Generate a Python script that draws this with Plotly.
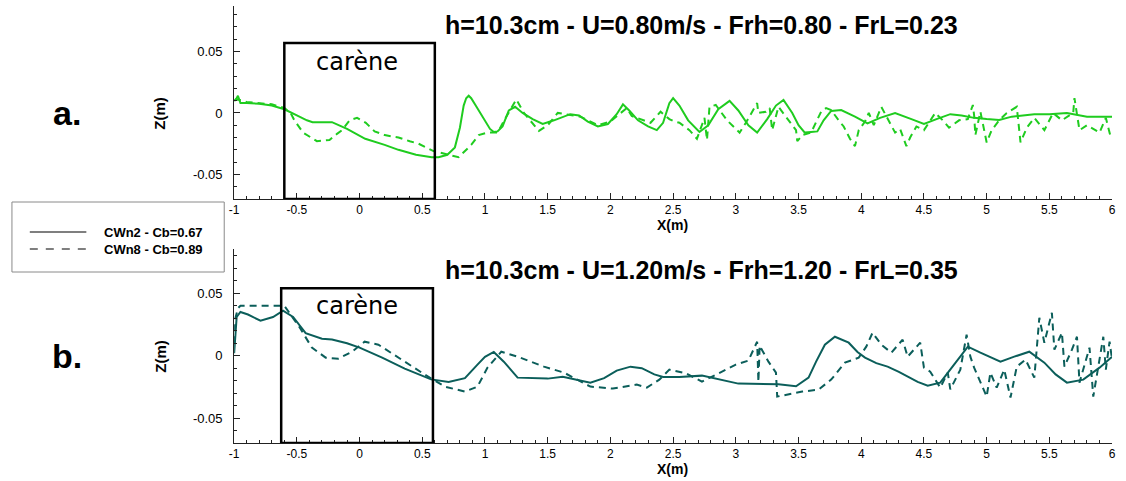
import plotly.graph_objects as go

# ---------------- data ----------------
# panel a : U = 0.80 m/s
xa_cwn2 = [-1.0, -0.98, -0.97, -0.95, -0.9, -0.8, -0.7, -0.6, -0.5, -0.42,
           -0.375, -0.22, -0.1, 0.045, 0.2, 0.31, 0.45, 0.575, 0.63, 0.7,
           0.76, 0.8, 0.83, 0.85, 0.87, 0.89, 0.92, 0.96, 1.0, 1.04,
           1.07, 1.1, 1.14, 1.19, 1.24, 1.3, 1.38, 1.46, 1.55, 1.62,
           1.68, 1.75, 1.82, 1.9, 1.98, 2.05, 2.1, 2.15, 2.22, 2.3,
           2.37, 2.42, 2.47, 2.5, 2.55, 2.62, 2.71, 2.78, 2.86, 2.95,
           3.02, 3.1, 3.17, 3.25, 3.32, 3.38, 3.45, 3.5, 3.55, 3.65,
           3.7, 3.76, 3.84, 3.95, 4.05, 4.15, 4.27, 4.4, 4.5, 4.6,
           4.71, 4.8, 4.9, 5.0, 5.1, 5.2, 5.38, 5.5, 5.64, 5.8,
           6.0]
za_cwn2 = [0.010, 0.012, 0.014, 0.008, 0.008, 0.0075, 0.006, 0.003, -0.002, -0.006,
           -0.0075, -0.0075, -0.013, -0.021, -0.026, -0.030, -0.034, -0.036, -0.036, -0.034,
           -0.028, -0.012, 0.006, 0.012, 0.014, 0.012, 0.007, 0.0, -0.007, -0.013,
           -0.0155, -0.015, -0.011, 0.002, 0.005, 0.0, -0.005, -0.009, -0.006, -0.003,
           -0.001, -0.002, -0.007, -0.011, -0.009, -0.001, 0.007, 0.002, -0.006, -0.011,
           -0.014, -0.008, 0.008, 0.012, 0.006, -0.006, -0.0155, -0.01, 0.003, 0.0098,
           0.002, -0.01, -0.016, -0.005, 0.006, 0.0106, 0.0, -0.01, -0.016, -0.015,
           -0.006, 0.0016, 0.0024, -0.003, -0.0085, -0.004, 0.0, -0.005, -0.009, -0.005,
           -0.001, -0.002, -0.004, -0.005, -0.0057, -0.003, -0.001, -0.001, 0.0, -0.003,
           -0.003]

xa_cwn8 = [-1.0, -0.97, -0.9, -0.8, -0.7, -0.6, -0.55, -0.52, -0.45, -0.34,
           -0.24, -0.18, -0.14, -0.08, -0.02, 0.05, 0.12, 0.2, 0.31, 0.4,
           0.47, 0.59, 0.7, 0.79, 0.89, 0.95, 1.02, 1.1, 1.17, 1.25,
           1.31, 1.43, 1.5, 1.58, 1.76, 1.9, 2.0, 2.13, 2.17, 2.32,
           2.4, 2.47, 2.51, 2.55, 2.63, 2.69, 2.75, 2.77, 2.79, 2.84,
           2.93, 3.03, 3.08, 3.17, 3.18, 3.24, 3.27, 3.29, 3.34, 3.4,
           3.48, 3.49, 3.53, 3.6, 3.64, 3.68, 3.72, 3.76, 3.82, 3.86,
           3.91, 3.95, 3.98, 4.03, 4.06, 4.1, 4.16, 4.22, 4.27, 4.31,
           4.36, 4.39, 4.44, 4.5, 4.59, 4.65, 4.7, 4.78, 4.85, 4.89,
           4.9, 4.91, 4.95, 5.0, 5.04, 5.1, 5.16, 5.24, 5.27, 5.32,
           5.38, 5.46, 5.53, 5.6, 5.69, 5.7, 5.74, 5.8, 5.9, 5.95,
           5.99]
za_cwn8 = [0.010, 0.011, 0.009, 0.008, 0.007, 0.004, 0.0, -0.006, -0.016, -0.023,
           -0.022, -0.017, -0.014, -0.006, -0.004, -0.008, -0.015, -0.018, -0.020, -0.023,
           -0.025, -0.031, -0.034, -0.036, -0.026, -0.018, -0.016, -0.016, -0.003, 0.011,
           0.0, -0.0146, -0.01, 0.0, -0.003, -0.01, -0.007, 0.004, -0.0025, -0.008,
           0.001, -0.005, -0.007, -0.008, -0.014, -0.021, -0.004, -0.022, 0.005, 0.0065,
           -0.006, -0.016, -0.008, 0.008, 0.0, 0.001, 0.004, -0.014, 0.005, -0.003,
           -0.014, -0.023, -0.018, -0.016, -0.008, 0.001, 0.004, 0.0024, -0.006, -0.011,
           -0.021, -0.027, -0.014, -0.007, 0.0, -0.01, 0.005, -0.006, -0.016, -0.013,
           -0.027, -0.02, -0.011, -0.014, 0.0, -0.006, -0.012, -0.006, -0.005, 0.0065,
           -0.002, -0.018, 0.001, -0.024, -0.014, -0.006, 0.0, 0.005, -0.024, -0.012,
           -0.004, -0.014, 0.0, -0.006, 0.0, 0.012, -0.014, -0.01, -0.016, -0.004,
           -0.02]

# panel b : U = 1.20 m/s
xb_cwn2 = [-1.0, -0.99, -0.98, -0.95, -0.89, -0.79, -0.69, -0.61, -0.53, -0.43,
           -0.3, -0.22, -0.1, 0.0, 0.18, 0.36, 0.57, 0.71, 0.84, 0.94,
           1.0, 1.07, 1.15, 1.26, 1.5, 1.62, 1.84, 1.95, 2.05, 2.16,
           2.25, 2.35, 2.42, 2.55, 2.73, 3.02, 3.34, 3.48, 3.58, 3.64,
           3.71, 3.79, 3.9, 3.97, 4.03, 4.12, 4.21, 4.3, 4.37, 4.45,
           4.53, 4.63, 4.74, 4.85, 4.95, 5.11, 5.22, 5.34, 5.46, 5.55,
           5.64, 5.77, 5.9, 6.0]
zb_cwn2 = [0.002, 0.02, 0.031, 0.035, 0.033, 0.028, 0.031, 0.036, 0.031, 0.018,
           0.0136, 0.013, 0.010, 0.0064, -0.0016, -0.0104, -0.019, -0.021, -0.018, -0.0072,
           -0.001, 0.003, -0.0048, -0.0176, -0.0184, -0.017, -0.0216, -0.018, -0.012, -0.0088,
           -0.010, -0.015, -0.017, -0.017, -0.016, -0.0224, -0.023, -0.0245, -0.0176, -0.0048,
           0.0088, 0.0152, 0.0104, 0.003, -0.0016, -0.006, -0.0088, -0.013, -0.0168, -0.021,
           -0.024, -0.0216, -0.0072, 0.0072, 0.0024, -0.0048, -0.0008, 0.0032, -0.0056, -0.015,
           -0.0216, -0.0192, -0.0096, -0.0008]

xb_cwn8 = [-1.0, -0.99, -0.97, -0.95, -0.8, -0.6, -0.55, -0.48, -0.38, -0.27,
           -0.17, -0.06, 0.04, 0.15, 0.36, 0.52, 0.68, 0.84, 0.94, 1.02,
           1.13, 1.26, 1.47, 1.63, 1.84, 2.02, 2.21, 2.29, 2.39, 2.47,
           2.6, 2.73, 2.89, 3.0, 3.1, 3.17, 3.18, 3.19, 3.26, 3.32,
           3.33, 3.42, 3.53, 3.66, 3.76, 3.87, 3.98, 4.04, 4.09, 4.16,
           4.24, 4.33, 4.37, 4.47, 4.5, 4.55, 4.63, 4.69, 4.71, 4.79,
           4.84, 4.87, 4.9, 5.0, 5.03, 5.08, 5.14, 5.19, 5.24, 5.31,
           5.38, 5.42, 5.46, 5.52, 5.54, 5.6, 5.62, 5.68, 5.72, 5.74,
           5.82, 5.85, 5.93, 5.95, 5.98, 6.0]
zb_cwn8 = [0.01, 0.03, 0.038, 0.040, 0.040, 0.040, 0.033, 0.023, 0.0064, -0.0016,
           -0.0024, 0.0032, 0.0112, 0.0088, -0.0048, -0.0152, -0.0248, -0.0288, -0.0248, -0.0096,
           0.0032, -0.0008, -0.0088, -0.0136, -0.0248, -0.0264, -0.0232, -0.0256, -0.0192, -0.0112,
           -0.014, -0.0208, -0.0128, -0.0072, -0.004, 0.0112, -0.021, 0.008, -0.0048, -0.0136,
           -0.0328, -0.031, -0.0288, -0.0272, -0.0192, -0.0056, -0.0016, 0.0072, 0.0184, 0.0088,
           0.0024, 0.0128, -0.0008, 0.0104, -0.0096, -0.0128, -0.0256, -0.0136, -0.027, -0.0112,
           0.0168, -0.0008, -0.0096, -0.0328, -0.0136, -0.0256, -0.0112, -0.0336, -0.0088, -0.0032,
           -0.0176, 0.0304, 0.0104, 0.0344, 0.0048, 0.0184, -0.0088, 0.0048, 0.0152, -0.0216,
           0.0064, -0.0328, 0.0152, -0.0112, 0.0112, -0.0032]

series_names = ["CWn2 - Cb=0.67", "CWn8 - Cb=0.89"]
titles = ["h=10.3cm - U=0.80m/s - Frh=0.80 - FrL=0.23",
          "h=10.3cm - U=1.20m/s - Frh=1.20 - FrL=0.35"]
panel_labels = ["a.", "b."]
hull_label = "carène"
hull_a = [-0.6, 0.6, 0.057]      # x0, x1, top of hull box (panel a)
hull_b = [-0.625, 0.585, 0.054]  # panel b

x_tickvals = [-1, -0.5, 0, 0.5, 1, 1.5, 2, 2.5, 3, 3.5, 4, 4.5, 5, 5.5, 6]
x_ticktext = ["-1", "-0.5", "0", "0.5", "1", "1.5", "2", "2.5", "3", "3.5",
              "4", "4.5", "5", "5.5", "6"]
y_tickvals = [-0.05, 0, 0.05]
y_ticktext = ["-0.05", "0", "0.05"]

GREEN = "#1fcc1f"
TEAL = "#0b5e5a"
W, H = 1126, 481

# ---------------- figure ----------------
fig = go.Figure()

def add_pair(xs, zs, xd, zd, color, xa, ya):
    fig.add_trace(go.Scatter(x=xs, y=zs, mode="lines", name=series_names[0],
                             line=dict(color=color, width=2), xaxis=xa, yaxis=ya,
                             showlegend=False))
    fig.add_trace(go.Scatter(x=xd, y=zd, mode="lines", name=series_names[1],
                             line=dict(color=color, width=2, dash="7px,5px"),
                             xaxis=xa, yaxis=ya, showlegend=False))

add_pair(xa_cwn2, za_cwn2, xa_cwn8, za_cwn8, GREEN, "x", "y")
add_pair(xb_cwn2, zb_cwn2, xb_cwn8, zb_cwn8, TEAL, "x2", "y2")

def px_x(p):
    return p / W

def px_y(p):
    return 1 - p / H

YTICKFONT = dict(family="Liberation Sans, Arial, sans-serif", size=13, color="black")
XTICKFONT = dict(family="Liberation Sans, Arial, sans-serif", size=12, color="black")

def xaxis_cfg(anchor):
    return dict(domain=[px_x(231), px_x(1116)], range=[-1, 6], anchor=anchor,
                showgrid=False, zeroline=False, showline=True, linecolor="#222",
                linewidth=1, ticks="inside", ticklen=6, tickcolor="#222",
                tickmode="array", tickvals=x_tickvals, ticktext=x_ticktext,
                tickfont=XTICKFONT,
                minor=dict(tickmode="linear", tick0=0, dtick=0.1, ticks="inside",
                           ticklen=3, tickcolor="#222"))

def yaxis_cfg(anchor, top_px, bot_px, rng):
    return dict(domain=[px_y(bot_px), px_y(top_px)], range=rng, anchor=anchor,
                showgrid=False, zeroline=False, showline=True, linecolor="#222",
                linewidth=1, ticks="inside", ticklen=6, tickcolor="#222",
                tickmode="array", tickvals=y_tickvals, ticktext=y_ticktext,
                tickfont=YTICKFONT, ticklabelstandoff=8,
                minor=dict(tickmode="linear", tick0=0, dtick=0.01, ticks="inside",
                           ticklen=3, tickcolor="#222"))

fig.update_layout(
    width=W, height=H, margin=dict(l=0, r=0, t=0, b=0),
    paper_bgcolor="white", plot_bgcolor="white", showlegend=False,
    xaxis=xaxis_cfg("y"),
    yaxis=yaxis_cfg("x", 6, 199, [-0.07, 0.087]),
    xaxis2=xaxis_cfg("y2"),
    yaxis2=yaxis_cfg("x2", 249, 443, [-0.07, 0.0855]),
)

# hull boxes
for hb, xr, yr in [(hull_a, "x", "y"), (hull_b, "x2", "y2")]:
    fig.add_shape(type="rect", xref=xr, yref=yr, x0=hb[0], x1=hb[1], y0=-0.07, y1=hb[2],
                  line=dict(color="black", width=2.5), layer="above")

annos = []
BOLD = "Liberation Sans, Arial, sans-serif"

def anno(text, xp, yp, size, family=BOLD, angle=0, xanchor="center"):
    annos.append(dict(text=text, x=px_x(xp), y=px_y(yp), xref="paper", yref="paper",
                      showarrow=False, xanchor=xanchor, yanchor="middle", textangle=angle,
                      font=dict(family=family, size=size, color="black")))

for i, (ty, ly, cy) in enumerate([(25, 113, 62), (270, 356, 306)]):
    anno("<b>%s</b>" % titles[i], 702, ty, 25)
    anno("<b>%s</b>" % panel_labels[i], 63, ly, 34)
    anno("<b>Z(m)</b>", 156, ly, 15, angle=-90)
    anno(hull_label, 355, cy, 24, family="DejaVu Sans, sans-serif")
anno("<b>X(m)</b>", 673, 225, 14)
anno("<b>X(m)</b>", 673, 469, 14)

# legend box
fig.add_shape(type="rect", xref="paper", yref="paper", x0=px_x(7), x1=px_x(221),
              y0=px_y(272), y1=px_y(202), line=dict(color="#8a8a8a", width=1))
for j, (ly, dash) in enumerate([(232, "solid"), (249, "8px,8px")]):
    fig.add_shape(type="line", xref="paper", yref="paper", x0=px_x(25), x1=px_x(82),
                  y0=px_y(ly), y1=px_y(ly), line=dict(color="#555555", width=1.5, dash=dash))
    anno("<b>%s</b>" % series_names[j], 98, ly, 13, xanchor="left")

fig.update_layout(annotations=annos)
fig.write_html("out.html", config={"displayModeBar": False},
               post_script="document.body.style.margin='0';")
